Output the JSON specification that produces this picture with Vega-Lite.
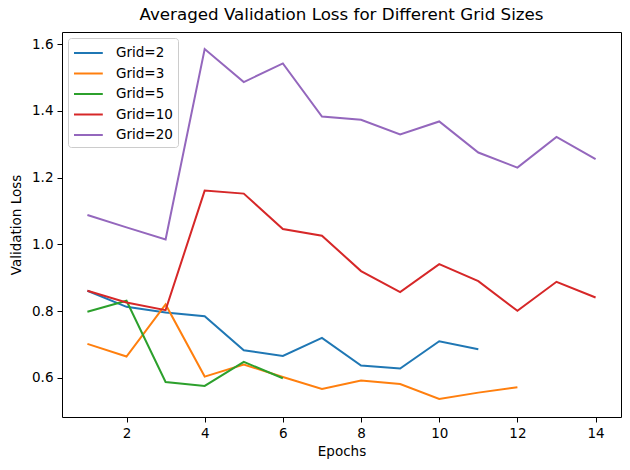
{
  "$schema": "https://vega.github.io/schema/vega-lite/v6.json",
  "autosize": {"type": "none"},
  "padding": {"left": 62, "top": 32, "right": 9, "bottom": 53},
  "width": 559,
  "height": 385,
  "background": "white",
  "title": {"text": "Averaged Validation Loss for Different Grid Sizes", "font": "DejaVu Sans", "fontSize": 16.7, "fontWeight": "normal", "color": "black", "offset": 8, "anchor": "middle"},
  "config": {
    "view": {"stroke": "black", "strokeWidth": 1},
    "axis": {"grid": false, "domain": false, "tickColor": "black", "tickSize": 5, "tickWidth": 1, "labelFont": "DejaVu Sans", "labelFontSize": 13.5, "labelColor": "black", "labelPadding": 4, "titleFont": "DejaVu Sans", "titleFontSize": 13.5, "titleFontWeight": "normal", "titleColor": "black"}
  },
  "data": {"values": [
    {"grid": "Grid=2", "epoch": 1, "loss": 0.861},
    {"grid": "Grid=2", "epoch": 2, "loss": 0.813},
    {"grid": "Grid=2", "epoch": 3, "loss": 0.796},
    {"grid": "Grid=2", "epoch": 4, "loss": 0.785},
    {"grid": "Grid=2", "epoch": 5, "loss": 0.683},
    {"grid": "Grid=2", "epoch": 6, "loss": 0.666},
    {"grid": "Grid=2", "epoch": 7, "loss": 0.720},
    {"grid": "Grid=2", "epoch": 8, "loss": 0.637},
    {"grid": "Grid=2", "epoch": 9, "loss": 0.628},
    {"grid": "Grid=2", "epoch": 10, "loss": 0.710},
    {"grid": "Grid=2", "epoch": 11, "loss": 0.686},
    {"grid": "Grid=3", "epoch": 1, "loss": 0.702},
    {"grid": "Grid=3", "epoch": 2, "loss": 0.664},
    {"grid": "Grid=3", "epoch": 3, "loss": 0.820},
    {"grid": "Grid=3", "epoch": 4, "loss": 0.604},
    {"grid": "Grid=3", "epoch": 5, "loss": 0.640},
    {"grid": "Grid=3", "epoch": 6, "loss": 0.603},
    {"grid": "Grid=3", "epoch": 7, "loss": 0.567},
    {"grid": "Grid=3", "epoch": 8, "loss": 0.592},
    {"grid": "Grid=3", "epoch": 9, "loss": 0.582},
    {"grid": "Grid=3", "epoch": 10, "loss": 0.537},
    {"grid": "Grid=3", "epoch": 11, "loss": 0.556},
    {"grid": "Grid=3", "epoch": 12, "loss": 0.572},
    {"grid": "Grid=5", "epoch": 1, "loss": 0.798},
    {"grid": "Grid=5", "epoch": 2, "loss": 0.831},
    {"grid": "Grid=5", "epoch": 3, "loss": 0.588},
    {"grid": "Grid=5", "epoch": 4, "loss": 0.576},
    {"grid": "Grid=5", "epoch": 5, "loss": 0.648},
    {"grid": "Grid=5", "epoch": 6, "loss": 0.599},
    {"grid": "Grid=10", "epoch": 1, "loss": 0.861},
    {"grid": "Grid=10", "epoch": 2, "loss": 0.826},
    {"grid": "Grid=10", "epoch": 3, "loss": 0.803},
    {"grid": "Grid=10", "epoch": 4, "loss": 1.161},
    {"grid": "Grid=10", "epoch": 5, "loss": 1.152},
    {"grid": "Grid=10", "epoch": 6, "loss": 1.046},
    {"grid": "Grid=10", "epoch": 7, "loss": 1.026},
    {"grid": "Grid=10", "epoch": 8, "loss": 0.920},
    {"grid": "Grid=10", "epoch": 9, "loss": 0.857},
    {"grid": "Grid=10", "epoch": 10, "loss": 0.941},
    {"grid": "Grid=10", "epoch": 11, "loss": 0.890},
    {"grid": "Grid=10", "epoch": 12, "loss": 0.801},
    {"grid": "Grid=10", "epoch": 13, "loss": 0.888},
    {"grid": "Grid=10", "epoch": 14, "loss": 0.841},
    {"grid": "Grid=20", "epoch": 1, "loss": 1.088},
    {"grid": "Grid=20", "epoch": 2, "loss": 1.051},
    {"grid": "Grid=20", "epoch": 3, "loss": 1.015},
    {"grid": "Grid=20", "epoch": 4, "loss": 1.585},
    {"grid": "Grid=20", "epoch": 5, "loss": 1.486},
    {"grid": "Grid=20", "epoch": 6, "loss": 1.542},
    {"grid": "Grid=20", "epoch": 7, "loss": 1.383},
    {"grid": "Grid=20", "epoch": 8, "loss": 1.373},
    {"grid": "Grid=20", "epoch": 9, "loss": 1.329},
    {"grid": "Grid=20", "epoch": 10, "loss": 1.368},
    {"grid": "Grid=20", "epoch": 11, "loss": 1.275},
    {"grid": "Grid=20", "epoch": 12, "loss": 1.230},
    {"grid": "Grid=20", "epoch": 13, "loss": 1.322},
    {"grid": "Grid=20", "epoch": 14, "loss": 1.255}
  ]},
  "mark": {"type": "line", "strokeWidth": 2, "clip": true},
  "encoding": {
    "x": {"field": "epoch", "type": "quantitative", "title": "Epochs",
      "scale": {"domain": [0.35, 14.65], "nice": false, "zero": false},
      "axis": {"values": [2, 4, 6, 8, 10, 12, 14], "titlePadding": 5}},
    "y": {"field": "loss", "type": "quantitative", "title": "Validation Loss",
      "scale": {"domain": [0.483, 1.636], "nice": false, "zero": false},
      "axis": {"values": [0.6, 0.8, 1.0, 1.2, 1.4, 1.6], "format": ".1f", "titlePadding": 8}},
    "color": {"field": "grid", "type": "nominal",
      "scale": {"domain": ["Grid=2", "Grid=3", "Grid=5", "Grid=10", "Grid=20"], "range": ["#1f77b4", "#ff7f0e", "#2ca02c", "#d62728", "#9467bd"]},
      "legend": {"title": "\u00a0", "titleFontSize": 2, "titlePadding": 1, "orient": "top-left", "offset": 6, "symbolType": "M-1,0H3.8", "symbolSize": 144, "symbolStrokeWidth": 2, "labelFont": "DejaVu Sans", "labelFontSize": 13.5, "labelColor": "black", "labelOffset": 29, "rowPadding": 6.5, "padding": 5, "strokeColor": "#cccccc", "cornerRadius": 3, "fillColor": "white"}}
  }
}
